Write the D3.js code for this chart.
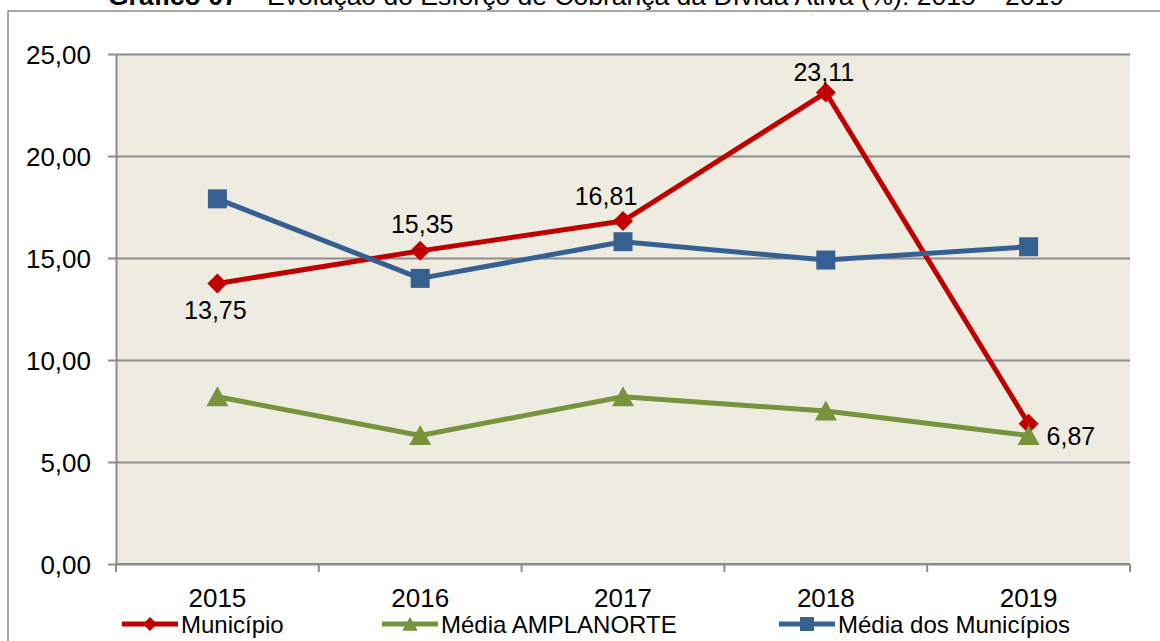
<!doctype html>
<html lang="pt">
<head>
<meta charset="utf-8">
<style>
html, body {
    margin: 0;
    padding: 0;
    background: #fff;
    overflow: hidden;
}
svg {
    display: block;
    font-family: "Liberation Sans", Arial, sans-serif;
}
.grid line {
    stroke: #8c8c8c;
    stroke-width: 2;
}
.grid path {
    display: none;
}
.axis path, .axis line {
    stroke: #8c8c8c;
    stroke-width: 2;
}
</style>
</head>
<body>
<svg id="chart" width="1160" height="641"></svg>
<script src="https://cdn.jsdelivr.net/npm/d3@7/dist/d3.min.js"></script>
<script>
const years = ['2015', '2016', '2017', '2018', '2019'];
const municipio = [13.75, 15.35, 16.81, 23.11, 6.87];
const mediaAmplanorte = [8.2, 6.3, 8.2, 7.5, 6.3];
const mediaMunicipios = [17.9, 14.0, 15.8, 14.9, 15.55];
const yTicks = [0, 5, 10, 15, 20, 25];

const series = [
    {name: 'Município', values: municipio, color: '#c00000', marker: 'diamond', legendX: 122},
    {name: 'Média AMPLANORTE', values: mediaAmplanorte, color: '#77933c', marker: 'triangle', legendX: 382},
    {name: 'Média dos Municípios', values: mediaMunicipios, color: '#376092', marker: 'square', legendX: 779}
];

// where each label of the Município series sits, relative to its point
const labelOffsets = [
    {dx: -2, dy: 35, anchor: 'middle'},
    {dx: 2, dy: -18, anchor: 'middle'},
    {dx: -17, dy: -16, anchor: 'middle'},
    {dx: -2, dy: -12, anchor: 'middle'},
    {dx: 18, dy: 21, anchor: 'start'}
];

const svg = d3.select('#chart');
const plot = {left: 116, right: 1130, top: 54, bottom: 564};

const fmt = v => d3.format('.2f')(v).replace('.', ',');

const x = d3.scaleBand().domain(years).range([plot.left, plot.right]).padding(0);
const y = d3.scaleLinear().domain([0, 25]).range([plot.bottom, plot.top]);
const cx = d => x(d) + x.bandwidth() / 2;

// outer frame
svg.append('path')
    .attr('d', `M8,${plot.bottom + 100}V11H1170`)
    .attr('fill', 'none')
    .attr('stroke', '#8c8c8c')
    .attr('stroke-width', 1.5);

// title (the top of the picture cuts it, as in the original)
const title = svg.append('text')
    .attr('x', 108)
    .attr('y', 5)
    .attr('font-size', 26.5)
    .attr('fill', '#000');
title.append('tspan').attr('font-weight', 'bold').text('Gráfico 07');
title.append('tspan').text(' – Evolução do Esforço de Cobrança da Dívida Ativa (%): 2015 – 2019');

// plot background
svg.append('rect')
    .attr('x', plot.left)
    .attr('y', plot.top)
    .attr('width', plot.right - plot.left)
    .attr('height', plot.bottom - plot.top)
    .attr('fill', '#eeece1');

// gridlines
svg.append('g')
    .attr('class', 'grid')
    .attr('transform', `translate(${plot.left},0)`)
    .call(d3.axisLeft(y).tickValues(yTicks).tickSize(-(plot.right - plot.left)).tickFormat(''));

// y axis
const gy = svg.append('g')
    .attr('class', 'axis')
    .attr('transform', `translate(${plot.left},0)`)
    .call(d3.axisLeft(y).tickValues(yTicks).tickSize(8).tickPadding(17).tickFormat(fmt).tickSizeOuter(0));
gy.selectAll('text').attr('font-size', 26).attr('fill', '#000').attr('font-family', null).attr('dy', '0.36em');

// x axis: ticks between categories
const gx = svg.append('g')
    .attr('class', 'axis')
    .attr('transform', `translate(0,${plot.bottom})`);
gx.append('path').attr('d', `M${plot.left},0H${plot.right}`);
gx.selectAll('line.sep')
    .data(years.concat(['end']))
    .join('line')
    .attr('class', 'sep')
    .attr('x1', (d, i) => plot.left + i * x.step())
    .attr('x2', (d, i) => plot.left + i * x.step())
    .attr('y1', 0)
    .attr('y2', 8);
gx.selectAll('text')
    .data(years)
    .join('text')
    .attr('x', d => cx(d))
    .attr('y', 43)
    .attr('text-anchor', 'middle')
    .attr('font-size', 26)
    .attr('fill', '#000')
    .text(d => d);

function markerPath(type, s) {
    if (type === 'diamond')
        return `M0,${-s}L${s},0L0,${s}L${-s},0Z`;
    if (type === 'triangle')
        return `M0,${-s * 1.05}L${s * 1.1},${s * 0.95}L${-s * 1.1},${s * 0.95}Z`;
    return `M${-s},${-s}H${s}V${s}H${-s}Z`;
}

const line = d3.line().x((d, i) => cx(years[i])).y(d => y(d));

series.forEach(s => {
    const g = svg.append('g');
    g.append('path')
        .attr('d', line(s.values))
        .attr('fill', 'none')
        .attr('stroke', s.color)
        .attr('stroke-width', 5)
        .attr('stroke-linejoin', 'round');
    g.selectAll('path.mk')
        .data(s.values)
        .join('path')
        .attr('class', 'mk')
        .attr('transform', (d, i) => `translate(${cx(years[i])},${y(d)})`)
        .attr('d', markerPath(s.marker, s.marker === 'square' ? 9.5 : 10))
        .attr('fill', s.color);
});

// data labels for Município
svg.append('g')
    .selectAll('text')
    .data(municipio)
    .join('text')
    .attr('x', (d, i) => cx(years[i]) + labelOffsets[i].dx)
    .attr('y', (d, i) => y(d) + labelOffsets[i].dy)
    .attr('text-anchor', (d, i) => labelOffsets[i].anchor)
    .attr('font-size', 25)
    .attr('fill', '#000')
    .text(d => fmt(d));

// legend
const legendY = 624;
const lg = svg.append('g');
series.forEach(s => {
    lg.append('line')
        .attr('x1', s.legendX)
        .attr('x2', s.legendX + 56)
        .attr('y1', legendY)
        .attr('y2', legendY)
        .attr('stroke', s.color)
        .attr('stroke-width', 5);
    lg.append('path')
        .attr('transform', `translate(${s.legendX + 28},${legendY})`)
        .attr('d', markerPath(s.marker, 7))
        .attr('fill', s.color);
    lg.append('text')
        .attr('x', s.legendX + 59)
        .attr('y', 633)
        .attr('font-size', 24)
        .attr('fill', '#000')
        .text(s.name);
});
</script>
</body>
</html>
